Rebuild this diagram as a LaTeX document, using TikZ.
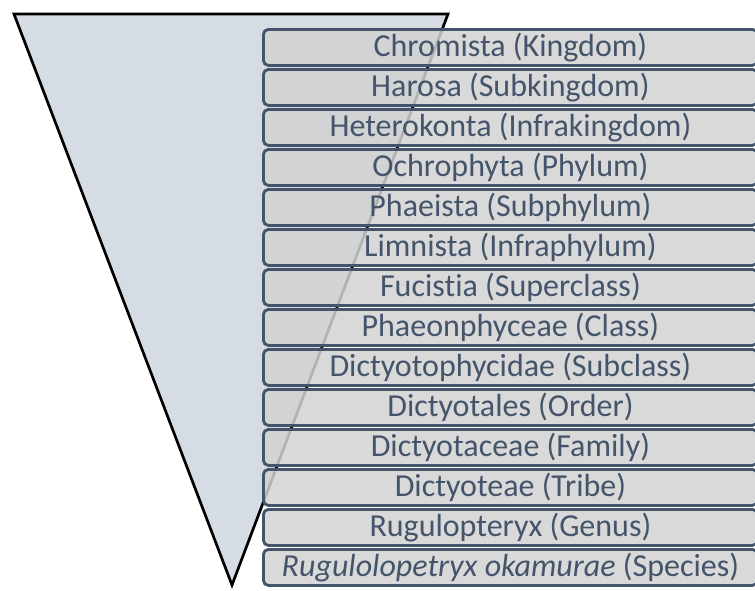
\documentclass[tikz,border=0pt]{standalone}
\usepackage{fontspec}
\setmainfont{Carlito}[Ligatures=NoCommon]
\usetikzlibrary{positioning}
\definecolor{slate}{HTML}{44546A}
\definecolor{paleblue}{HTML}{D6DCE4}
\definecolor{boxgray}{HTML}{D2D2D2}

\tikzset{
  rankbox/.style={draw=slate, fill=boxgray, fill opacity=0.85, text opacity=1,
    line width=2.8pt, rounded corners=5pt, minimum width=494pt,
    minimum height=36pt, inner sep=0pt, text=slate,
    font=\fontsize{32}{36}\selectfont, anchor=north west}
}

\begin{document}
\begin{tikzpicture}[x=1pt,y=-1pt]
\useasboundingbox (0,0) rectangle (755,590);
\clip (0,0) rectangle (755,590);
% funnel
\draw[line width=2.7pt, fill=paleblue] (14,14) -- (448,14) -- (232,585) -- cycle;
% ranks
\foreach \lab [count=\i] in {Chromista (Kingdom), Harosa (Subkingdom),
    Heterokonta (Infrakingdom), Ochrophyta (Phylum), Phaeista (Subphylum),
    Limnista (Infraphylum), Fucistia (Superclass), Phaeonphyceae (Class),
    Dictyotophycidae (Subclass), Dictyotales (Order), Dictyotaceae (Family),
    Dictyoteae (Tribe), Rugulopteryx (Genus),
    {\textit{Rugulolopetryx okamurae} (Species)}}
  \node[rankbox] (r\i) at (262,{28+40*(\i-1)}) {\lab};
\end{tikzpicture}
\end{document}
